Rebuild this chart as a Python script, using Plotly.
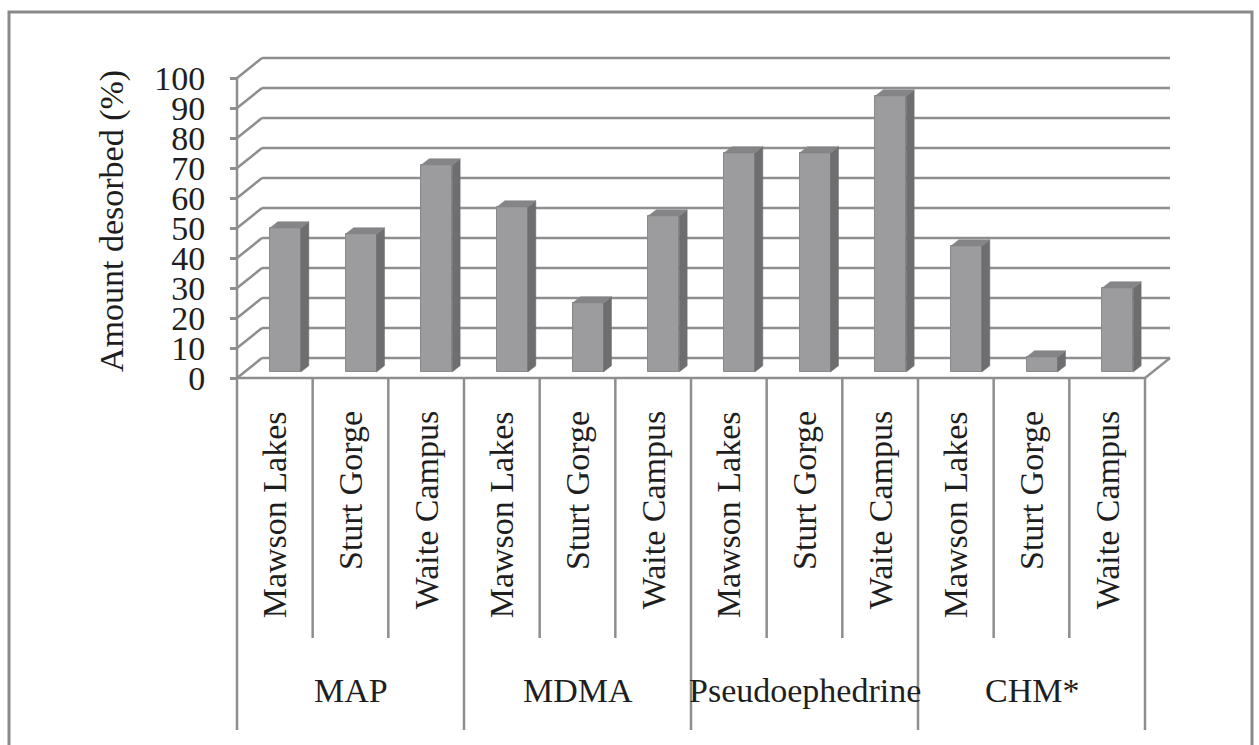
import numpy as np
import plotly.graph_objects as go

# ---- data -------------------------------------------------------------
groups = ["MAP", "MDMA", "Pseudoephedrine", "CHM*"]
sites = ["Mawson Lakes", "Sturt Gorge", "Waite Campus"]
map_vals = [48, 46, 69]
mdma_vals = [55, 23, 52]
pseudo_vals = [73, 73, 92]
chm_vals = [42, 5, 28]
y_ticks = list(range(0, 101, 10))

values = map_vals + mdma_vals + pseudo_vals + chm_vals
n_cat = len(values)
cat_x = np.arange(n_cat)

# ---- canvas / scale ---------------------------------------------------
W, H = 1259, 745
FONT = "Liberation Serif, Times New Roman, serif"
TXT = "#1e1e1e"
cat_px = 908 / n_cat          # pixels per category slot
unit_px = 3.0                 # pixels per percent
axis_left_px = 237
zero_px = 378

x_lo = -0.5 - axis_left_px / cat_px
x_hi = x_lo + W / cat_px
y_hi = zero_px / unit_px
y_lo = (zero_px - H) / unit_px

def py(pixel_y):
    """vertical pixel -> y data units"""
    return (zero_px - pixel_y) / unit_px

# depth of the 3-D box (back wall offset) in data units
depth_dx = 25 / cat_px
depth_dy = 20 / unit_px
# bar placement inside the box and its own thickness
bar_shift = 10.5 / cat_px
bar_w = 31 / cat_px
bar_base = 2.0
side_dx = 8 / cat_px
side_dy = 6.3 / unit_px

GRID = "#8e8e8e"
FRONT = "#9c9c9e"
SIDE = "#6e6e70"
TOP = "#858587"

left = -0.5
right = n_cat - 0.5

fig = go.Figure()

shapes = []
# walls: back gridlines plus left-wall diagonals
for v in y_ticks:
    shapes.append(dict(type="line", x0=left, y0=v, x1=left + depth_dx, y1=v + depth_dy,
                       line=dict(color=GRID, width=2.5), layer="below"))
    shapes.append(dict(type="line", x0=left + depth_dx, y0=v + depth_dy,
                       x1=right + depth_dx, y1=v + depth_dy,
                       line=dict(color=GRID, width=2.5), layer="below"))
# floor front edge and right edge
shapes.append(dict(type="line", x0=left, y0=0, x1=right, y1=0,
                   line=dict(color=GRID, width=2.5), layer="below"))
shapes.append(dict(type="line", x0=right, y0=0, x1=right + depth_dx, y1=depth_dy,
                   line=dict(color=GRID, width=2.5), layer="below"))

# category table below the floor
sub_bottom = py(638)
grp_bottom = py(730)
shapes.append(dict(type="line", x0=left, y0=y_ticks[-1], x1=left, y1=grp_bottom,
                   line=dict(color=GRID, width=2.5)))
for k in range(1, n_cat + 1):
    xb = k - 0.5
    end = grp_bottom if k % len(sites) == 0 else sub_bottom
    shapes.append(dict(type="line", x0=xb, y0=0, x1=xb, y1=end,
                       line=dict(color=GRID, width=2.5)))

# outer frame
shapes.append(dict(type="rect", xref="paper", yref="paper",
                   x0=9 / W, x1=1252 / W, y0=-0.05, y1=1 - 12 / H,
                   line=dict(color="#8a8a8a", width=3), fillcolor="rgba(0,0,0,0)"))

# front faces of the columns
fig.add_trace(go.Bar(
    x=cat_x + bar_shift, y=values, base=bar_base, width=bar_w,
    marker=dict(color=FRONT, line=dict(color="#8a8a8c", width=1)),
    hoverinfo="skip", showlegend=False,
))

# side and top faces
for xc, v in zip(cat_x, values):
    xl = xc + bar_shift - bar_w / 2
    xr = xc + bar_shift + bar_w / 2
    top = bar_base + v
    fig.add_trace(go.Scatter(
        x=[xr, xr + side_dx, xr + side_dx, xr, xr],
        y=[bar_base, bar_base + side_dy, top + side_dy, top, bar_base],
        fill="toself", fillcolor=SIDE, mode="lines",
        line=dict(color=SIDE, width=0.5), hoverinfo="skip", showlegend=False))
    fig.add_trace(go.Scatter(
        x=[xl, xr, xr + side_dx, xl + side_dx, xl],
        y=[top, top, top + side_dy, top + side_dy, top],
        fill="toself", fillcolor=TOP, mode="lines",
        line=dict(color=TOP, width=0.5), hoverinfo="skip", showlegend=False))

annotations = []
# site labels, rotated
for k in range(n_cat):
    annotations.append(dict(
        x=k, y=py(409), xref="x", yref="y", text=sites[k % len(sites)],
        textangle=-90, showarrow=False, xanchor="center", yanchor="top",
        font=dict(family=FONT, size=34, color=TXT)))
# compound group labels
for g, name in enumerate(groups):
    annotations.append(dict(
        x=g * len(sites) + (len(sites) - 1) / 2, y=py(690), xref="x", yref="y",
        text=name, showarrow=False, xanchor="center", yanchor="middle",
        font=dict(family=FONT, size=34, color=TXT)))
# value-axis title
annotations.append(dict(
    x=112 / W, y=py(221), xref="paper", yref="y", text="Amount desorbed (%)",
    textangle=-90, showarrow=False, xanchor="center", yanchor="middle",
    font=dict(family=FONT, size=34, color=TXT)))

fig.update_layout(
    width=W, height=H,
    margin=dict(l=0, r=0, t=0, b=0),
    paper_bgcolor="white", plot_bgcolor="white",
    shapes=shapes, annotations=annotations,
    bargap=0,
    xaxis=dict(range=[x_lo, x_hi], visible=False, fixedrange=True),
    yaxis=dict(
        range=[y_lo, y_hi], anchor="free", position=axis_left_px / W,
        side="left", showgrid=False, zeroline=False, showline=False,
        ticks="outside", ticklen=7, tickwidth=2.5, tickcolor=GRID,
        tickvals=y_ticks, ticktext=[str(t) for t in y_ticks],
        ticklabelstandoff=18,
        tickfont=dict(family=FONT, size=34, color=TXT),
        fixedrange=True,
    ),
)

fig.write_html("out.html")
